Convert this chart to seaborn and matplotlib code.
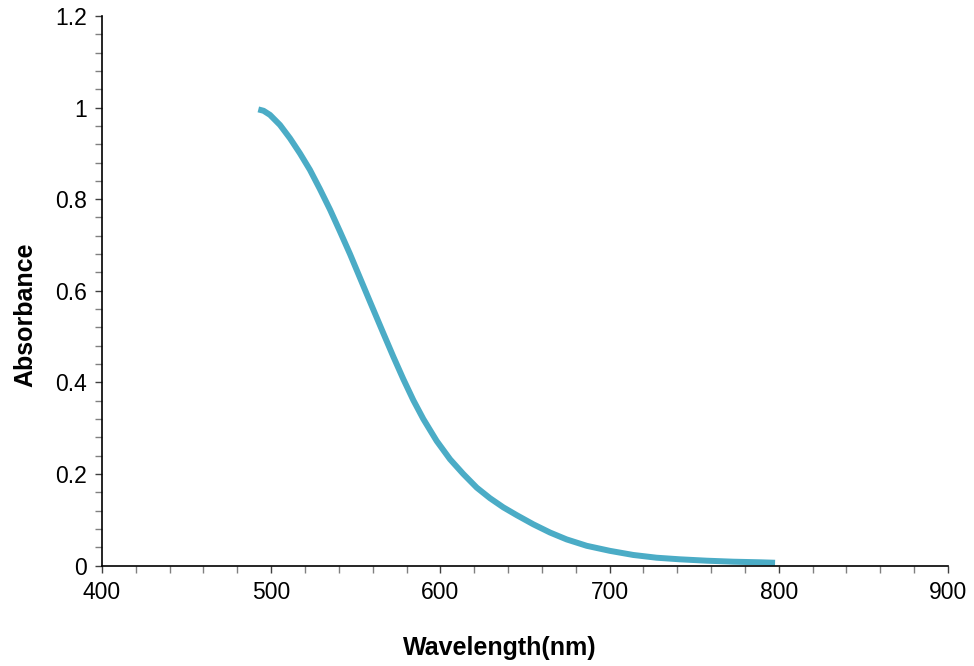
import matplotlib
matplotlib.use("Agg")
import matplotlib.pyplot as plt
import seaborn as sns
import pandas as pd
from matplotlib.ticker import MultipleLocator, FuncFormatter

wavelength = [492.4, 495.5, 499.3, 505.2, 511.1, 517.0, 522.9, 528.8, 534.8, 540.7, 546.6,
              552.5, 558.4, 566.3, 572.2, 578.1, 584.0, 589.9, 597.8, 605.7, 613.5,
              621.5, 629.3, 637.2, 645.1, 654.9, 664.8, 674.6, 686.5, 700.2, 714.0,
              727.8, 741.6, 757.4, 773.1, 788.9, 797.8]
absorbance = [0.996, 0.993, 0.984, 0.962, 0.933, 0.900, 0.864, 0.822, 0.777, 0.729, 0.680,
              0.628, 0.576, 0.507, 0.456, 0.407, 0.361, 0.320, 0.272, 0.232, 0.200,
              0.170, 0.147, 0.127, 0.110, 0.090, 0.072, 0.057, 0.043, 0.032, 0.023,
              0.017, 0.0135, 0.0105, 0.0083, 0.007, 0.006]
x_ticks = [400, 500, 600, 700, 800, 900]
y_ticks = [0, 0.2, 0.4, 0.6, 0.8, 1.0, 1.2]

sns.set_style("ticks")
plt.rcParams['font.family'] = ['Liberation Sans', 'DejaVu Sans']
plt.rcParams['text.color'] = 'black'
plt.rcParams['axes.labelcolor'] = 'black'
plt.rcParams['xtick.color'] = 'black'
plt.rcParams['ytick.color'] = 'black'

df = pd.DataFrame({"Wavelength": wavelength, "Absorbance": absorbance})

fig = plt.figure(figsize=(9.74, 6.66), dpi=100)
ax = fig.add_axes([0.1047, 0.1509, 0.8686, 0.8251])
sns.lineplot(data=df, x="Wavelength", y="Absorbance", ax=ax, color="#4BACC6",
             linewidth=4.3, solid_capstyle="butt", solid_joinstyle="round")

ax.set_xlim(400, 900)
ax.set_ylim(0, 1.2)
ax.set_xticks(x_ticks)
ax.set_yticks(y_ticks)
ax.xaxis.set_minor_locator(MultipleLocator(20))
ax.yaxis.set_minor_locator(MultipleLocator(0.04))
ax.yaxis.set_major_formatter(FuncFormatter(lambda v, p: f"{v:g}"))
ax.tick_params(axis="both", which="major", direction="out", length=5, width=1,
               color="#404040", labelcolor="black", labelsize=16.5, pad=6)
ax.tick_params(axis="both", which="minor", direction="out", length=5, width=1,
               color="#808080")
sns.despine(ax=ax)
for s in ["left", "bottom"]:
    ax.spines[s].set_color("black")
    ax.spines[s].set_linewidth(1.2)

ax.set_xlabel("Wavelength(nm)", fontsize=18, fontweight="bold", color="black")
ax.set_ylabel("Absorbance", fontsize=18, fontweight="bold", color="black")
ax.xaxis.set_label_coords((500 - 102) / 846, (565.5 - 648) / 549.5)
ax.xaxis.label.set_va("center")
ax.yaxis.set_label_coords((25 - 102) / 846, (565.5 - 315) / 549.5)
ax.yaxis.label.set_va("center")

fig.savefig("out.png", dpi=100)
